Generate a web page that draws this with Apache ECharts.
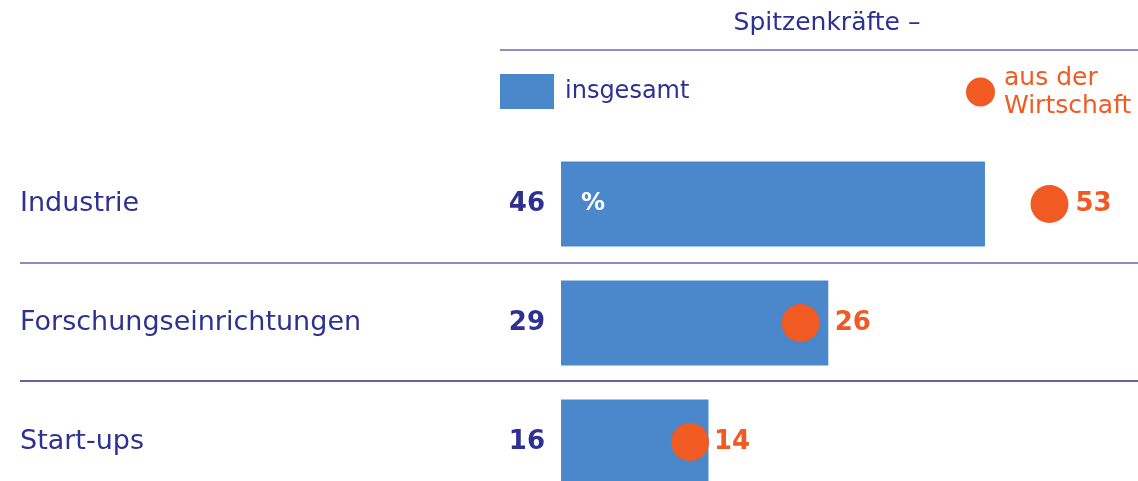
<!DOCTYPE html>
<html>
<head>
<meta charset="utf-8">
<script src="https://cdn.jsdelivr.net/npm/echarts@6/dist/echarts.min.js"></script>
<style>
  html, body { margin: 0; padding: 0; background: #fff; }
  #main { width: 1138px; height: 481px; }
</style>
</head>
<body>
<div id="main"></div>
<script>
var categories = ['Industrie', 'Forschungseinrichtungen', 'Start-ups'];
var insgesamt = [46, 29, 16];
var wirtschaft = [53, 26, 14];

var navy = '#2e3192';
var blue = '#4a87cb';
var orange = '#f15a22';
var font = 'DejaVu Sans';

// label gaps next to the dots (the middle one clears the bar end)
var dotLabelGap = [7, 15, 5];

var chart = echarts.init(document.getElementById('main'));

var option = {
  backgroundColor: '#fff',
  textStyle: { fontFamily: font },
  title: {
    text: 'Spitzenkräfte –',
    left: 822,
    textAlign: 'center',
    top: 6,
    textStyle: { color: navy, fontSize: 25, fontWeight: 'normal', fontFamily: font }
  },
  legend: [{
    data: ['insgesamt'],
    left: 495,
    top: 69,
    itemWidth: 54,
    itemHeight: 35,
    icon: 'rect',
    textStyle: { color: navy, fontSize: 24, fontFamily: font, padding: [6, 0, 0, 6] },
    selectedMode: false
  }, {
    data: ['aus der\nWirtschaft'],
    left: 961,
    top: 59,
    itemWidth: 29,
    itemHeight: 29,
    icon: 'circle',
    textStyle: { color: orange, fontSize: 25, lineHeight: 28, fontFamily: font, padding: [0, 0, 0, 4] },
    selectedMode: false
  }],
  grid: { left: 561, right: 24, top: 144.5, height: 357, outerBoundsMode: 'none', containLabel: false },
  xAxis: { type: 'value', min: 0, max: 60, show: false },
  yAxis: {
    type: 'category',
    data: categories,
    inverse: true,
    axisLine: { show: false },
    axisTick: { show: false },
    splitLine: { show: false },
    axisLabel: {
      align: 'left',
      margin: 541,
      color: navy,
      fontSize: 27,
      fontFamily: font
    }
  },
  series: [{
    name: 'insgesamt',
    type: 'bar',
    data: insgesamt,
    barWidth: 85,
    itemStyle: { color: blue },
    label: {
      show: true,
      position: 'left',
      distance: 16,
      color: navy,
      fontSize: 26,
      fontWeight: 'bold',
      fontFamily: font
    },
    z: 2
  }, {
    name: 'pct',
    type: 'bar',
    data: insgesamt,
    barWidth: 85,
    barGap: '-100%',
    itemStyle: { color: 'rgba(0,0,0,0)' },
    label: {
      show: true,
      position: 'insideLeft',
      distance: 20,
      color: '#fff',
      fontSize: 24,
      fontWeight: 'bold',
      fontFamily: font,
      formatter: function (p) { return p.dataIndex === 0 ? '%' : ''; }
    },
    silent: true,
    z: 3
  }, {
    name: 'aus der\nWirtschaft',
    type: 'scatter',
    data: wirtschaft.map(function (v, i) {
      return { value: v, label: { distance: dotLabelGap[i] } };
    }),
    symbolSize: 38,
    itemStyle: { color: orange, opacity: 1 },
    label: {
      show: true,
      position: 'right',
      color: orange,
      fontSize: 26,
      fontWeight: 'bold',
      fontFamily: font
    },
    z: 4
  }],
  graphic: [
    { type: 'line', shape: { x1: 500, y1: 50, x2: 1138, y2: 50 }, style: { stroke: '#8b8ec9', lineWidth: 2 } },
    { type: 'line', shape: { x1: 20, y1: 263, x2: 1138, y2: 263 }, style: { stroke: '#5f63b6', lineWidth: 1.5 } },
    { type: 'line', shape: { x1: 20, y1: 381, x2: 1138, y2: 381 }, style: { stroke: '#2e3180', lineWidth: 1.5 } }
  ]
};

chart.setOption(option);
</script>
</body>
</html>
